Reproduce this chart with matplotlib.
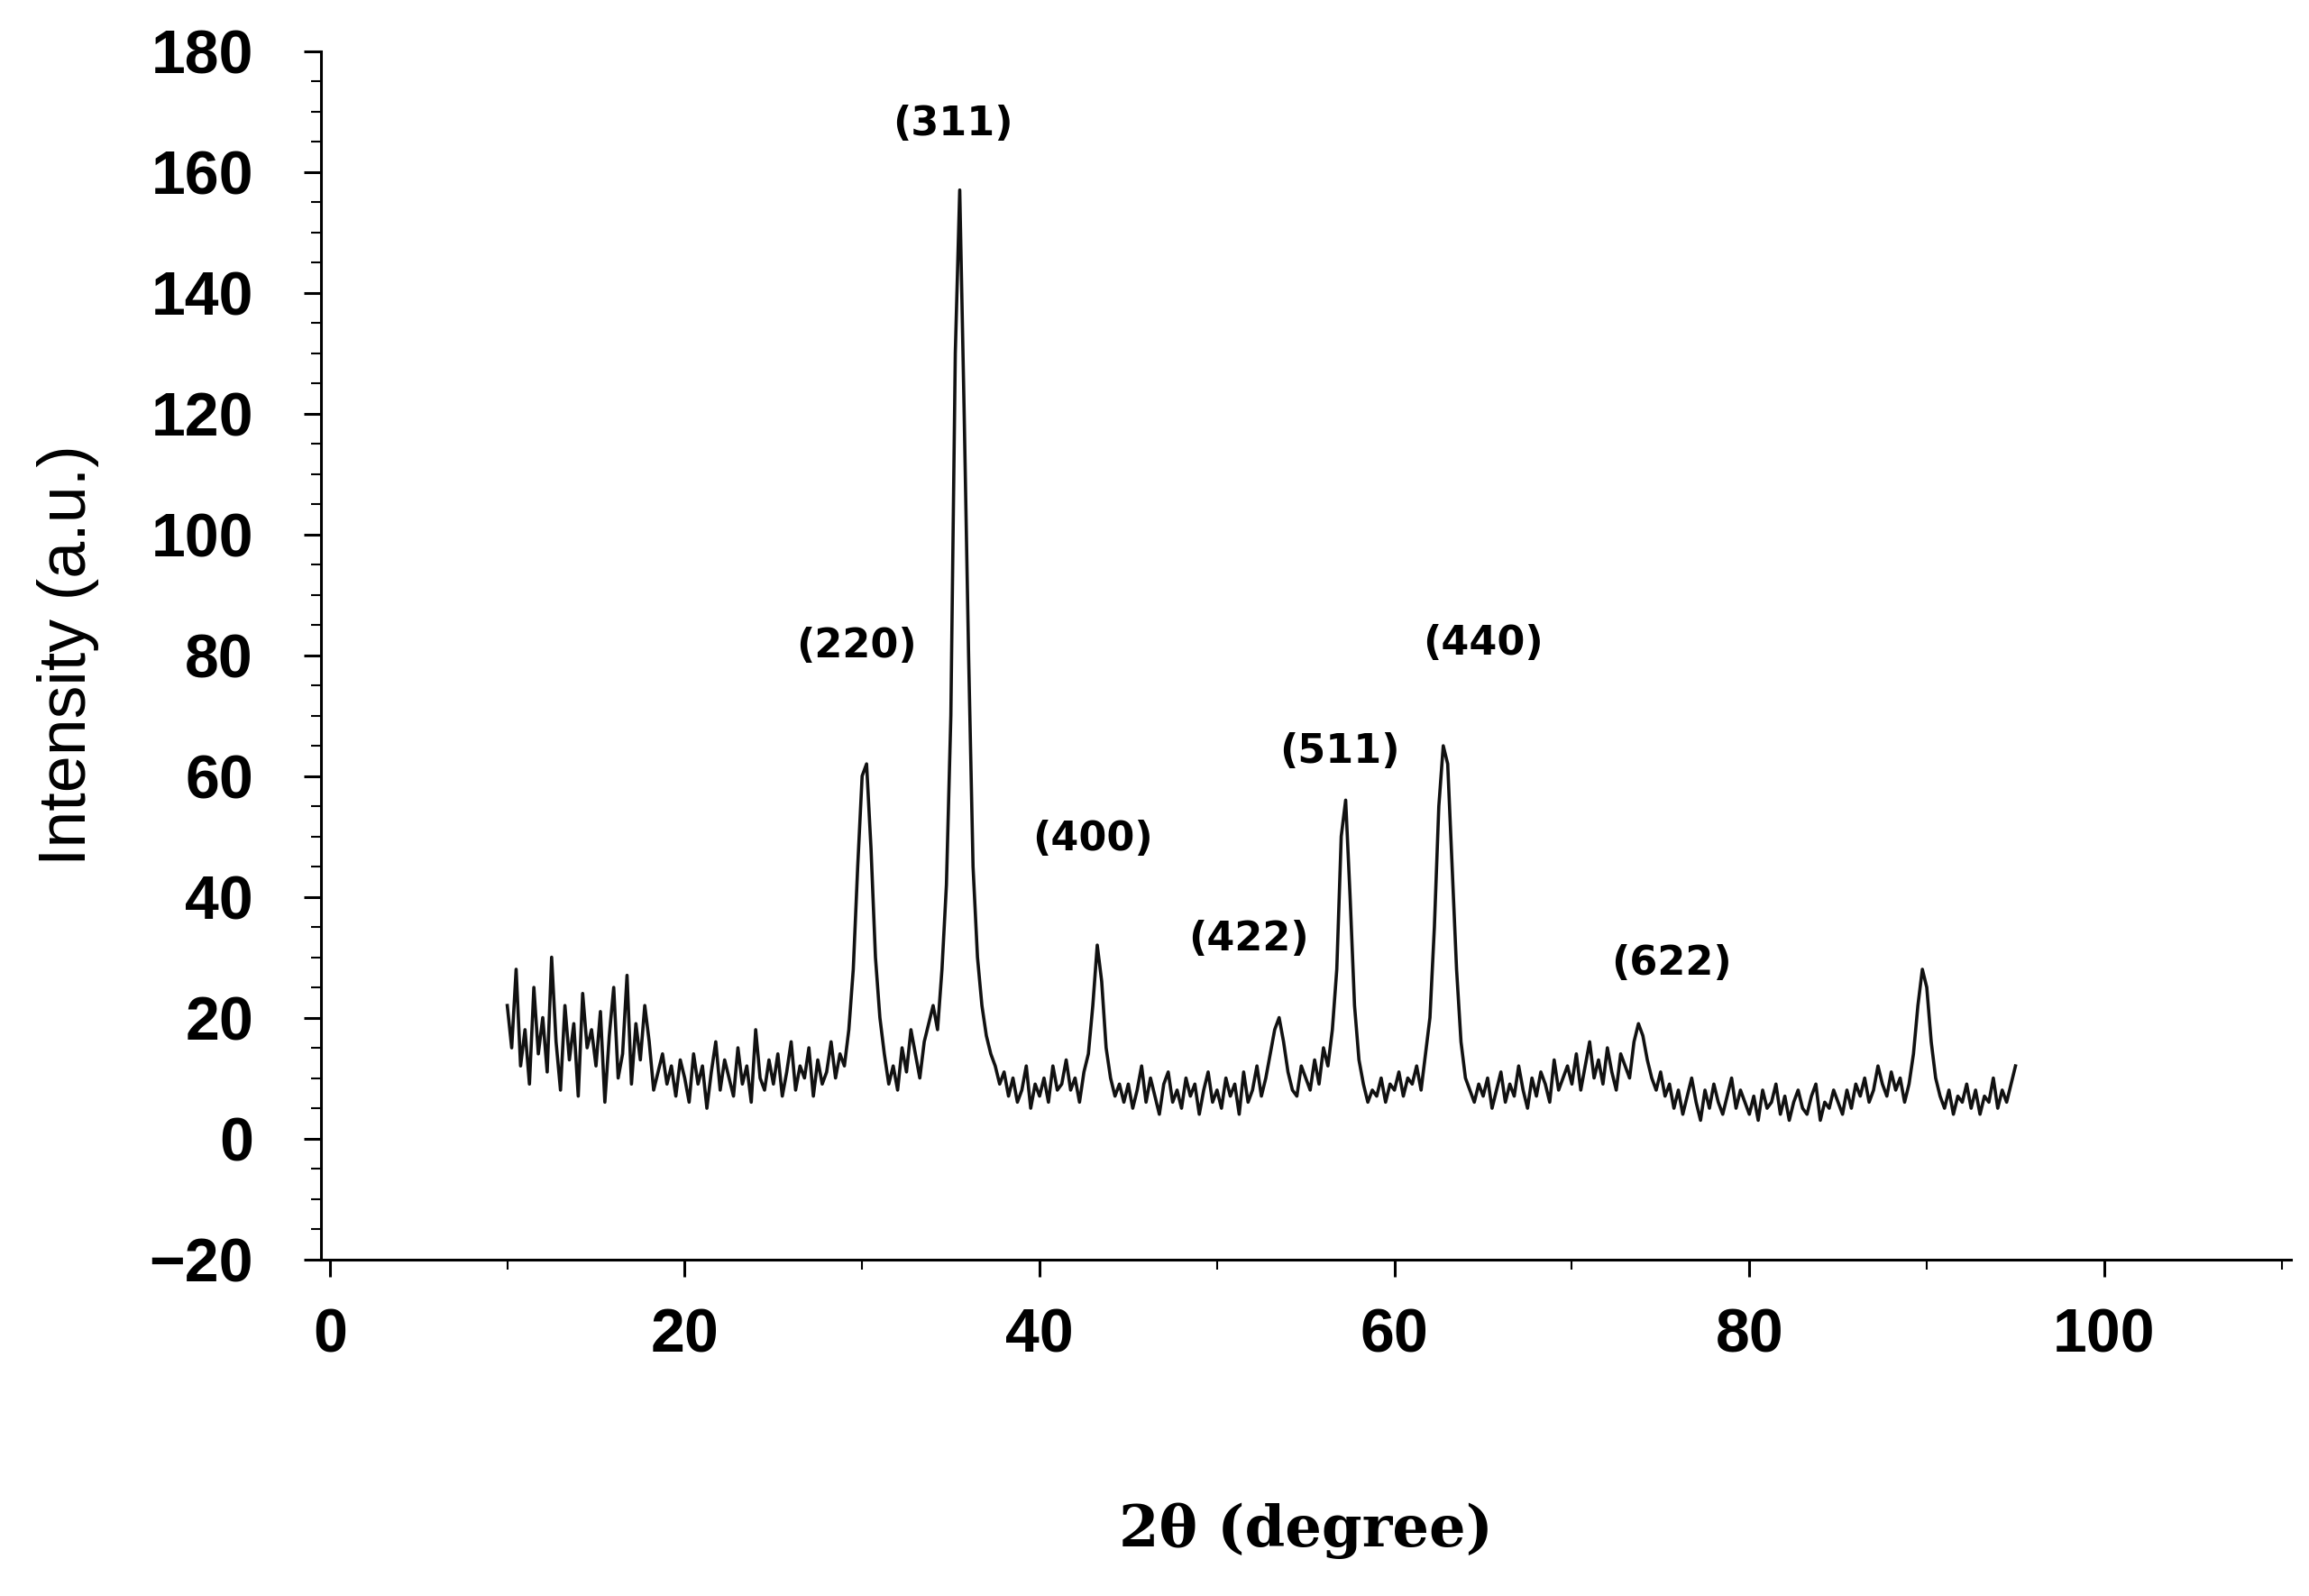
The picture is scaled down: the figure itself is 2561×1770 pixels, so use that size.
import numpy as np
import matplotlib.pyplot as plt
from matplotlib.ticker import MultipleLocator

# 2-theta grid (0.25 deg steps) and intensities
two_theta = np.arange(10, 95.01, 0.25)
intensity = [
    22, 15, 28, 12, 18, 9, 25, 14, 20, 11, 30, 16, 8, 22, 13, 19, 7, 24, 15, 18,   # 10-15
    12, 21, 6, 17, 25, 10, 14, 27, 9, 19, 13, 22, 16, 8, 11, 14, 9, 12, 7, 13,     # 15-20
    10, 6, 14, 9, 12, 5, 11, 16, 8, 13, 10, 7, 15, 9, 12, 6, 18, 10, 8, 13,        # 20-25
    9, 14, 7, 11, 16, 8, 12, 10, 15, 7, 13, 9, 11, 16, 10, 14, 12, 18, 28, 45,     # 25-30
    60, 62, 48, 30, 20, 14, 9, 12, 8, 15, 11, 18, 14, 10, 16, 19, 22, 18, 28, 42,  # 30-35
    70, 130, 157, 120, 80, 45, 30, 22, 17, 14, 12, 9, 11, 7, 10, 6, 8, 12, 5, 9,   # 35-40
    7, 10, 6, 12, 8, 9, 13, 8, 10, 6, 11, 14, 22, 32, 26, 15, 10, 7, 9, 6,         # 40-45
    9, 5, 8, 12, 6, 10, 7, 4, 9, 11, 6, 8, 5, 10, 7, 9, 4, 8, 11, 6,               # 45-50
    8, 5, 10, 7, 9, 4, 11, 6, 8, 12, 7, 10, 14, 18, 20, 16, 11, 8, 7, 12,          # 50-55
    10, 8, 13, 9, 15, 12, 18, 28, 50, 56, 40, 22, 13, 9, 6, 8, 7, 10, 6, 9,        # 55-60
    8, 11, 7, 10, 9, 12, 8, 14, 20, 35, 55, 65, 62, 45, 28, 16, 10, 8, 6, 9,       # 60-65
    7, 10, 5, 8, 11, 6, 9, 7, 12, 8, 5, 10, 7, 11, 9, 6, 13, 8, 10, 12,            # 65-70
    9, 14, 8, 12, 16, 10, 13, 9, 15, 11, 8, 14, 12, 10, 16, 19, 17, 13, 10, 8,     # 70-75
    11, 7, 9, 5, 8, 4, 7, 10, 6, 3, 8, 5, 9, 6, 4, 7, 10, 5, 8, 6,                 # 75-80
    4, 7, 3, 8, 5, 6, 9, 4, 7, 3, 6, 8, 5, 4, 7, 9, 3, 6, 5, 8,                    # 80-85
    6, 4, 8, 5, 9, 7, 10, 6, 8, 12, 9, 7, 11, 8, 10, 6, 9, 14, 22, 28,             # 85-90
    25, 16, 10, 7, 5, 8, 4, 7, 6, 9, 5, 8, 4, 7, 6, 10, 5, 8, 6, 9,                # 90-95
    12,
]

# peak labels and where they sit
peak_labels = ["(220)", "(311)", "(400)", "(422)", "(511)", "(440)", "(622)"]
label_x = [29.7, 35.1, 43.0, 51.8, 56.9, 65.0, 75.6]
label_y = [81.5, 168, 49.5, 33, 64, 82, 29]

fig = plt.figure(figsize=(25.61, 17.70), dpi=100)
ax = fig.add_axes([0.139, 0.211, 0.853, 0.757])

ax.plot(two_theta, intensity, color="#111111", linewidth=2.6)

for lab, lx, ly in zip(peak_labels, label_x, label_y):
    ax.text(lx, ly, lab, ha="center", va="center", fontsize=32,
            fontweight="bold", family="DejaVu Sans")

ax.set_xlim(-0.5, 110.5)
ax.set_ylim(-20, 180)
ax.set_xticks([0, 20, 40, 60, 80, 100])
ax.set_yticks(range(-20, 181, 20))
ax.xaxis.set_minor_locator(MultipleLocator(10))
ax.yaxis.set_minor_locator(MultipleLocator(5))

for s in ["top", "right"]:
    ax.spines[s].set_visible(False)
for s in ["left", "bottom"]:
    ax.spines[s].set_linewidth(2.2)

ax.tick_params(which="major", length=14, width=2.2, direction="out")
ax.tick_params(which="minor", length=8, width=1.5, direction="out")
ax.tick_params(axis="x", pad=24)
ax.tick_params(axis="y", pad=40)

for t in ax.get_xticklabels() + ax.get_yticklabels():
    t.set_fontfamily("Liberation Sans")
    t.set_fontweight("bold")
    t.set_fontsize(49)

ax.set_ylabel("Intensity (a.u.)", fontsize=53, family="Liberation Sans", labelpad=40)
ax.set_xlabel("2θ (degree)", fontsize=46, family="DejaVu Serif",
              fontweight="bold", labelpad=110)

fig.savefig("out.png", dpi=100)
